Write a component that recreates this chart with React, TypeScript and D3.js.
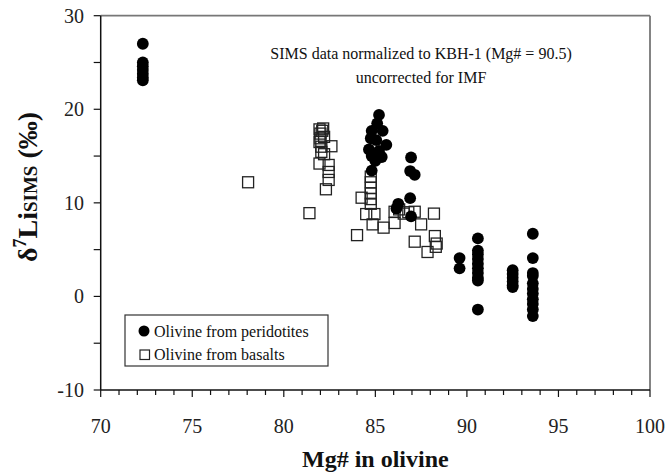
import React from "react";
import * as d3 from "d3";

// Olivine from peridotites: [Mg#, δ7Li]
const peridotites: [number, number][] = [
  [72.3, 27.0], [72.3, 25.0], [72.3, 24.6], [72.3, 24.2], [72.3, 23.8], [72.3, 23.4], [72.3, 23.1],
  [85.2, 19.4], [85.1, 18.5], [84.8, 17.7], [85.4, 17.7], [84.75, 16.9], [85.05, 16.7], [85.6, 16.2],
  [84.65, 15.7], [85.2, 15.55], [84.8, 15.0], [85.35, 14.9], [85.0, 14.5], [84.8, 13.45],
  [86.95, 14.85], [86.9, 13.4], [87.15, 13.0], [86.9, 10.5], [86.25, 9.9], [86.15, 9.4], [86.95, 8.55],
  [89.6, 4.1], [89.6, 3.0],
  [90.6, 6.2], [90.6, 4.9], [90.6, 4.5], [90.6, 4.0], [90.6, 3.5], [90.6, 3.0], [90.6, 2.5], [90.6, 2.0], [90.6, 1.7], [90.6, -1.4],
  [92.5, 2.8], [92.5, 2.4], [92.5, 2.0], [92.5, 1.6], [92.5, 1.2], [92.5, 1.0],
  [93.6, 6.7], [93.6, 4.1], [93.6, 2.5], [93.6, 2.2], [93.6, 1.4], [93.6, 0.8], [93.6, 0.3], [93.6, -0.3], [93.6, -0.8], [93.6, -1.4], [93.6, -2.1],
];

// Olivine from basalts: [Mg#, δ7Li]
const basalts: [number, number][] = [
  [78.05, 12.2], [81.4, 8.9],
  [81.95, 17.85], [82.15, 17.95], [82.0, 17.4], [82.2, 17.05], [82.1, 17.7], [81.95, 16.5], [82.0, 16.9],
  [82.05, 16.0], [82.6, 16.05], [82.05, 15.45], [82.2, 15.2], [81.95, 14.2], [82.45, 14.05], [82.45, 13.3],
  [82.45, 12.45], [82.3, 11.45],
  [84.0, 6.55], [84.25, 10.55],
  [84.75, 12.8], [84.75, 12.2], [84.75, 11.6], [84.75, 11.0], [84.75, 10.4], [84.75, 9.9],
  [84.5, 8.8], [84.95, 8.8], [84.85, 7.7], [85.45, 7.35], [86.05, 7.85], [86.05, 9.05], [86.3, 9.3],
  [86.55, 8.85], [86.8, 9.0], [87.15, 9.05], [87.5, 7.7], [88.2, 8.85], [87.15, 5.85], [87.85, 4.75],
  [88.25, 6.45], [88.35, 5.65], [88.3, 5.3],
];

const xTicks = [70, 75, 80, 85, 90, 95, 100];
const yTicks = [-10, 0, 10, 20, 30];
const annotationLines = ["SIMS data normalized to KBH-1 (Mg# = 90.5)", "uncorrected for IMF"];
const legendLabels = ["Olivine from peridotites", "Olivine from basalts"];

const W = 668;
const H = 475;
const FONT = "'Liberation Serif', 'DejaVu Serif', serif";
const ts = { fontFamily: FONT };

export default function App() {
  const x = d3.scaleLinear().domain([70, 100]).range([100.7, 650]);
  const y = d3.scaleLinear().domain([-10, 30]).range([390, 15.7]);
  const minorX = d3.range(70, 101, 1);
  const minorY = d3.range(-10, 31, 5);
  const sq = 11;

  return (
    <svg
      width={W}
      height={H}
      style={{ position: "absolute", left: 0, top: 0, background: "#fff" }}
    >
      <rect x={0} y={0} width={W} height={H} fill="#fff" />
      {/* top and right frame */}
      <line x1={x(70)} x2={x(100)} y1={y(30)} y2={y(30)} stroke="#777" strokeWidth={1.8} />
      <line x1={x(100)} x2={x(100)} y1={y(30)} y2={y(-10)} stroke="#777" strokeWidth={1.8} />
      {/* axes */}
      <line x1={x(70)} x2={x(100)} y1={y(-10)} y2={y(-10)} stroke="#111" strokeWidth={1.5} />
      <line x1={x(70)} x2={x(70)} y1={y(30)} y2={y(-10)} stroke="#111" strokeWidth={1.5} />
      {minorX.map((v) => (
        <line key={"xt" + v} x1={x(v)} x2={x(v)} y1={y(-10)} y2={y(-10) + (v % 5 === 0 ? 7 : 5)} stroke="#111" strokeWidth={1.2} />
      ))}
      {minorY.map((v) => (
        <line key={"yt" + v} x1={x(70) - 7} x2={x(70)} y1={y(v)} y2={y(v)} stroke="#111" strokeWidth={1.2} />
      ))}
      {xTicks.map((v) => (
        <text key={"xl" + v} x={x(v)} y={433} textAnchor="middle" fontSize={20} fill="#222" style={ts}>
          {v}
        </text>
      ))}
      {yTicks.map((v) => (
        <text key={"yl" + v} x={84} y={y(v) + 7} textAnchor="end" fontSize={20} fill="#222" style={ts}>
          {v}
        </text>
      ))}
      {/* axis titles */}
      <text x={(x(70) + x(100)) / 2} y={467} textAnchor="middle" fontSize={24} fontWeight="bold" fill="#111" style={ts}>
        Mg# in olivine
      </text>
      <text
        transform={`translate(37, ${187}) rotate(-90)`}
        textAnchor="middle"
        fontSize={28}
        fontWeight="bold"
        fill="#111"
        style={ts}
      >
        δ<tspan fontSize={18} dy={-11}>7</tspan>
        <tspan dy={11}>Li</tspan>
        <tspan fontSize={19}>SIMS</tspan>
        <tspan> (‰)</tspan>
      </text>
      {/* annotation */}
      {annotationLines.map((t, i) => (
        <text key={"an" + i} x={421} y={59 + i * 24} textAnchor="middle" fontSize={16} fill="#111" style={ts}>
          {t}
        </text>
      ))}
      {/* data: basalts (open squares) */}
      {basalts.map(([a, b], i) => (
        <rect
          key={"b" + i}
          x={x(a) - sq / 2}
          y={y(b) - sq / 2}
          width={sq}
          height={sq}
          fill="none"
          stroke="#222"
          strokeWidth={1.3}
        />
      ))}
      {/* data: peridotites (filled circles) */}
      {peridotites.map(([a, b], i) => (
        <circle key={"p" + i} cx={x(a)} cy={y(b)} r={5.9} fill="#000" />
      ))}
      {/* legend */}
      <rect x={125} y={315} width={203} height={51} fill="#fff" stroke="#333" strokeWidth={1.2} />
      <circle cx={144} cy={331} r={5.5} fill="#000" />
      <text x={154} y={337} fontSize={16} fill="#111" style={ts}>{legendLabels[0]}</text>
      <rect x={140} y={350} width={9.5} height={9.5} fill="none" stroke="#222" strokeWidth={1.2} />
      <text x={154} y={360} fontSize={16} fill="#111" style={ts}>{legendLabels[1]}</text>
    </svg>
  );
}
